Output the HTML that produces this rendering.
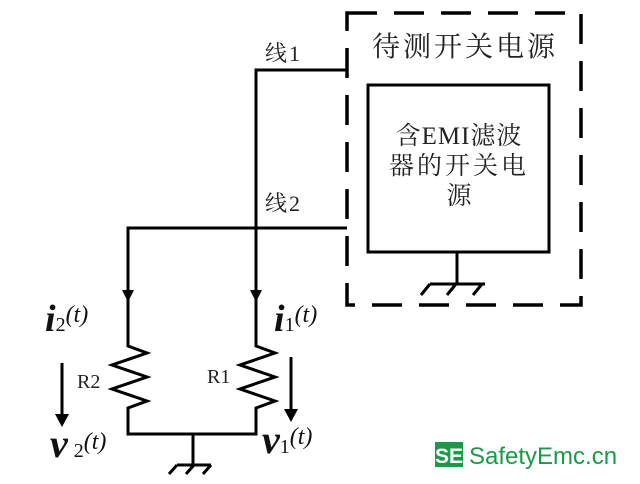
<!DOCTYPE html>
<html><head><meta charset="utf-8"><style>
html,body{margin:0;padding:0;background:#fff;}
svg{display:block}
.t{font-family:"Liberation Serif","Noto Serif CJK SC",serif;fill:#222}
.m{font-family:"Liberation Serif",serif;font-style:italic;font-weight:bold;fill:#111}
</style></head><body>
<svg width="640" height="484" viewBox="0 0 640 484" xmlns="http://www.w3.org/2000/svg">
<rect x="347" y="13" width="234" height="292" fill="none" stroke="#000" stroke-width="3.5" stroke-dasharray="30,17"/>
<text class="t" x="372" y="56" font-size="28" letter-spacing="3">待测开关电源</text>
<rect x="368" y="85" width="181" height="167" fill="none" stroke="#000" stroke-width="3"/>
<text class="t" x="459" y="144" font-size="25" letter-spacing="1" text-anchor="middle">含EMI滤波</text>
<text class="t" x="459" y="174" font-size="25" letter-spacing="3" text-anchor="middle">器的开关电</text>
<text class="t" x="459" y="204" font-size="25" text-anchor="middle">源</text>
<g stroke="#000" stroke-width="3" fill="none">
<path d="M457 252 V284 M430 284 H485 M430 284 L421 295 M456 284 L447 295 M482 284 L473 295"/>
<path d="M347 70 H256 V343"/>
<path d="M347 228 H128 V343"/>
<path d="M128 343 V346 L147 353 L112 365 L147 377 L112 389 L147 401 L128 408 V434 H256 V408 L275 401 L240 389 L275 377 L240 365 L275 353 L256 346 V343"/>
<path d="M193 434 V465 M177 465 H211 M177 465 L169 474 M194 465 L186 474 M211 465 L203 474"/>
<path d="M62 363 V415 M291 357 V410"/>
</g>
<g fill="#000">
<path d="M122 290 L134 290 L128 302 Z"/>
<path d="M250 290 L262 290 L256 302 Z"/>
<path d="M55 414 L69 414 L62 427 Z"/>
<path d="M284 409 L298 409 L291 422 Z"/>
</g>
<text class="t" x="265" y="61" font-size="22" letter-spacing="2">线1</text>
<text class="t" x="265" y="211" font-size="22" letter-spacing="2">线2</text>
<text class="t" x="77" y="388" font-size="20">R2</text>
<text class="t" x="207" y="383" font-size="20">R1</text>
<text class="m" x="45" y="331" font-size="38">i<tspan font-size="20" font-style="normal" font-weight="normal">2</tspan><tspan font-size="24" font-weight="normal" dy="-9">(t)</tspan></text>
<text class="m" x="274" y="331" font-size="38">i<tspan font-size="20" font-style="normal" font-weight="normal">1</tspan><tspan font-size="24" font-weight="normal" dy="-9">(t)</tspan></text>
<text class="m" x="50" y="457" font-size="40">v<tspan font-size="20" font-style="normal" font-weight="normal" dx="6">2</tspan><tspan font-size="24" font-weight="normal" dy="-8">(t)</tspan></text>
<text class="m" x="262" y="453" font-size="40">v<tspan font-size="20" font-style="normal" font-weight="normal">1</tspan><tspan font-size="24" font-weight="normal" dy="-9">(t)</tspan></text>
<rect x="435" y="442" width="28" height="25" fill="#1a9a48"/>
<text x="449" y="463" font-size="21" font-weight="bold" text-anchor="middle" fill="#fff" font-family="Liberation Sans,sans-serif">SE</text>
<text x="469" y="464" font-size="24" fill="#1a9a48" font-family="Liberation Sans,sans-serif">SafetyEmc.cn</text>
</svg>
</body></html>
